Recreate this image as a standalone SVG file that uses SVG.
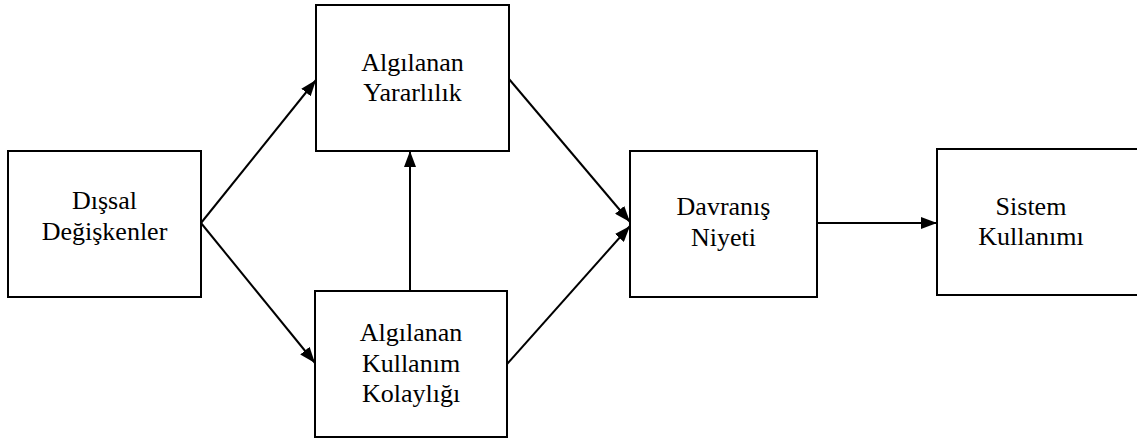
<svg xmlns="http://www.w3.org/2000/svg" width="1137" height="441" viewBox="0 0 1137 441">
<style>
.box{fill:#fff;stroke:#000;stroke-width:2}
.lbl{font-family:"Liberation Serif","Times New Roman",serif;font-size:26px;fill:#000;text-anchor:middle}
.conn line{stroke:#000;stroke-width:2;marker-end:url(#ah)}
</style>
<defs>
<marker id="ah" markerUnits="userSpaceOnUse" markerWidth="16" markerHeight="12" refX="16" refY="6" orient="auto">
<path d="M0,0 L16,6 L0,12 z" fill="#000"/>
</marker>
</defs>
<rect width="1137" height="441" fill="#fff"/>
<g id="n-dissal">
<rect class="box" x="8" y="151" width="193" height="146"/>
<text class="lbl" x="104.5" y="209">Dışsal</text>
<text class="lbl" x="104.5" y="240">Değişkenler</text>
</g>
<g id="n-yararlilik">
<rect class="box" x="316" y="5" width="193" height="146"/>
<text class="lbl" x="412.5" y="71">Algılanan</text>
<text class="lbl" x="412.5" y="101">Yararlılık</text>
</g>
<g id="n-kolaylik">
<rect class="box" x="315" y="291" width="192" height="146"/>
<text class="lbl" x="411" y="341">Algılanan</text>
<text class="lbl" x="411" y="372">Kullanım</text>
<text class="lbl" x="411" y="402">Kolaylığı</text>
</g>
<g id="n-niyet">
<rect class="box" x="630" y="151" width="187" height="146"/>
<text class="lbl" x="723.5" y="215">Davranış</text>
<text class="lbl" x="723.5" y="246">Niyeti</text>
</g>
<g id="n-kullanim">
<rect class="box" x="937" y="149" width="210" height="146"/>
<text class="lbl" x="1031" y="215">Sistem</text>
<text class="lbl" x="1031" y="245">Kullanımı</text>
</g>
<g id="connectors" class="conn">
<line x1="201" y1="223" x2="316" y2="80"/>
<line x1="201" y1="223" x2="315" y2="363"/>
<line x1="410" y1="291" x2="410" y2="151"/>
<line x1="509" y1="79" x2="630" y2="222"/>
<line x1="507" y1="364" x2="630" y2="226"/>
<line x1="817" y1="223" x2="937" y2="223"/>
</g>
</svg>
